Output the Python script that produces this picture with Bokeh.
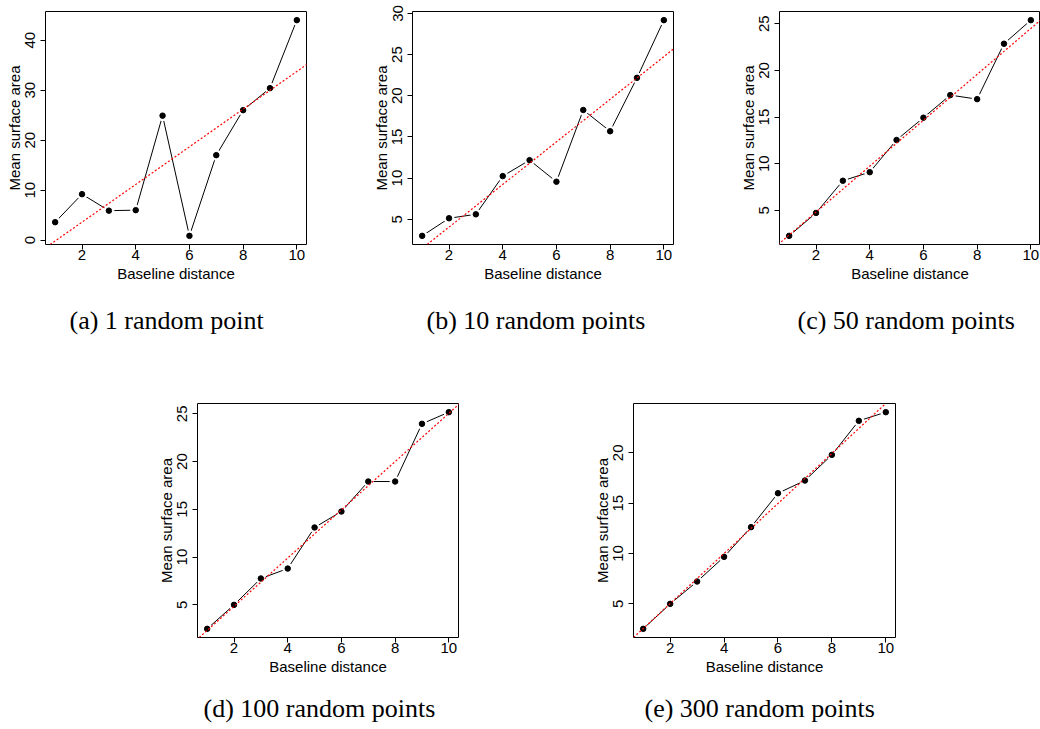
import numpy as np
from bokeh.plotting import figure
from bokeh.models import FixedTicker, Slope, Title, Spacer
from bokeh.layouts import row, column
from bokeh.embed import file_html
from bokeh.resources import INLINE

# ---- data ----
distance = [1, 2, 3, 4, 5, 6, 7, 8, 9, 10]
area_1pt = [3.6, 9.2, 5.9, 6.0, 24.9, 0.86, 17.0, 26.0, 30.4, 44.0]
area_10pts = [2.98, 5.12, 5.6, 10.24, 12.18, 9.56, 18.27, 15.69, 22.18, 29.19]
area_50pts = [2.26, 4.72, 8.17, 9.09, 12.54, 14.93, 17.35, 16.92, 22.86, 25.39]
area_100pts = [2.49, 5.0, 7.76, 8.80, 13.10, 14.77, 17.91, 17.91, 23.95, 25.17]
area_300pts = [2.52, 5.0, 7.22, 9.67, 12.62, 15.99, 17.25, 19.80, 23.18, 24.04]

x_ticks = [2, 4, 6, 8, 10]
y_ticks_a = [0, 10, 20, 30, 40]
y_ticks_b = [5, 10, 15, 20, 25, 30]
y_ticks_c = [5, 10, 15, 20, 25]
y_ticks_d = [5, 10, 15, 20, 25]
y_ticks_e = [5, 10, 15, 20]

captions = ["(a) 1 random point", "(b) 10 random points", "(c) 50 random points",
            "(d) 100 random points", "(e) 300 random points"]
x_label = "Baseline distance"
y_label = "Mean surface area"

SANS = "Liberation Sans"
SERIF = "Liberation Serif"


def panel(y, yticks, caption, width, height, left, right, top, bottom, cap_offset, cap_gap):
    x0, x1 = min(distance), max(distance)
    dx = (x1 - x0) * 0.04
    y0, y1 = min(y), max(y)
    dy = (y1 - y0) * 0.04
    p = figure(width=width, height=height,
               x_range=(x0 - dx, x1 + dx), y_range=(y0 - dy, y1 + dy),
               output_backend="svg", toolbar_location=None,
               min_border_left=left, min_border_right=right,
               min_border_top=top, min_border_bottom=bottom)
    p.xaxis.ticker = FixedTicker(ticks=x_ticks)
    p.yaxis.ticker = FixedTicker(ticks=yticks)
    p.xaxis.axis_label = x_label
    p.yaxis.axis_label = y_label
    for ax in (p.xaxis[0], p.yaxis[0]):
        ax.axis_line_color = None
        ax.major_tick_line_color = "black"
        ax.major_tick_out = 5
        ax.major_tick_in = 0
        ax.minor_tick_line_color = None
        ax.major_label_text_font = SANS
        ax.major_label_text_font_size = "15px"
        ax.major_label_text_color = "black"
        ax.axis_label_text_font = SANS
        ax.axis_label_text_font_size = "15px"
        ax.axis_label_text_font_style = "normal"
        ax.axis_label_text_color = "black"
    p.xaxis.major_label_standoff = 0
    p.xaxis.axis_label_standoff = 2
    p.yaxis.major_label_standoff = 5
    p.yaxis.axis_label_standoff = 0
    p.yaxis.major_label_orientation = "vertical"
    p.grid.visible = False
    p.outline_line_color = "black"
    p.outline_line_alpha = 1
    p.outline_line_width = 1
    p.background_fill_color = "white"
    p.border_fill_color = "white"

    p.line(distance, y, line_color="black", line_width=1)
    p.scatter(distance, y, size=10, color="white")
    p.scatter(distance, y, size=5.5, color="black")
    m, b = np.polyfit(distance, y, 1)
    p.add_layout(Slope(gradient=float(m), y_intercept=float(b), line_color="red",
                       line_dash="2 2", line_width=1.2))
    # gap between the axis and the caption, then the caption itself
    p.add_layout(Title(text=" ", text_font_size="1px", standoff=cap_gap), "below")
    p.add_layout(Title(text=caption, align="left", offset=cap_offset, vertical_align="top",
                       standoff=0, text_font=SERIF, text_font_size="26px",
                       text_font_style="normal", text_color="black"), "below")
    return p


pa = panel(area_1pt, y_ticks_a, captions[0], 367, 392, 45, 61, 11, 148, 24, 18)
pb = panel(area_10pts, y_ticks_b, captions[1], 367, 392, 45, 61, 11, 148, 14, 18)
pc = panel(area_50pts, y_ticks_c, captions[2], 306, 392, 45, 0, 11, 148, 18, 18)
pd = panel(area_100pts, y_ticks_d, captions[3], 436, 336, 45, 130, 11, 91, 6, 13)
pe = panel(area_300pts, y_ticks_e, captions[4], 327, 336, 45, 20, 11, 91, 11, 13)

layout = column(row(pa, pb, pc), row(Spacer(width=152, height=336), pd, pe))

open("out.html", "w").write(file_html(layout, INLINE))
